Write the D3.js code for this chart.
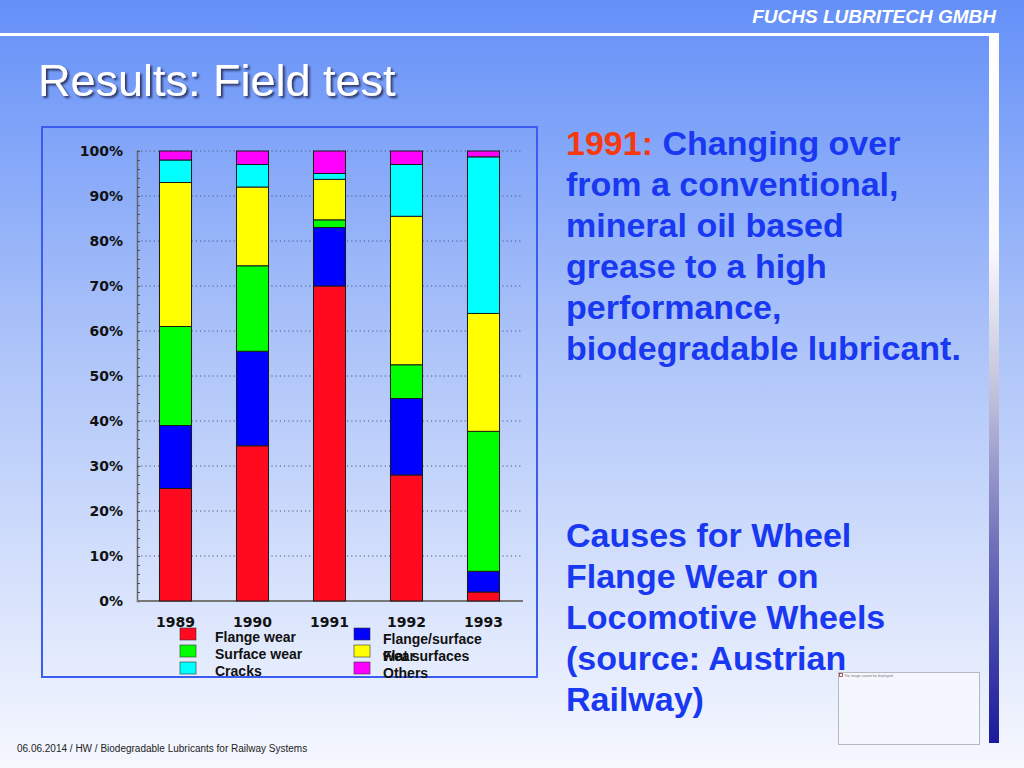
<!DOCTYPE html>
<html>
<head>
<meta charset="utf-8">
<script src="https://cdn.jsdelivr.net/npm/d3@7"></script>
<style>
  body { margin: 0; overflow: hidden; }
  svg { display: block; }
</style>
</head>
<body>
<script>
// values, bottom segment first
const years = ["1989", "1990", "1991", "1992", "1993"];
const causes = ["Flange wear", "Flange/surface wear", "Surface wear", "Flat surfaces", "Cracks", "Others"];
const causeColors = ["#ff0a1e", "#0000ff", "#00ff00", "#ffff00", "#00ffff", "#ff00ff"];

const flangeWear        = [25, 34.5, 70, 28, 2];
const flangeSurfaceWear = [14, 21, 13, 17, 4.6];
const surfaceWear       = [22, 19, 1.7, 7.5, 31.1];
const flatSurfaces      = [32, 17.5, 9, 33, 26.2];
const cracks            = [5, 5, 1.3, 11.5, 34.8];
const others            = [2, 3, 5, 3, 1.3];

const yTicks = [0, 10, 20, 30, 40, 50, 60, 70, 80, 90, 100];

const headLines = ["Changing over", "from a conventional,", "mineral oil based", "grease to a high", "performance,", "biodegradable lubricant."];
const causeLines = ["Causes for Wheel", "Flange Wear on", "Locomotive Wheels", "(source: Austrian", "Railway)"];

const W = 1024, H = 768;

const svg = d3.select("body").append("svg")
  .attr("width", W)
  .attr("height", H);

const defs = svg.append("defs");

const bg = defs.append("linearGradient")
  .attr("id", "bg").attr("x1", 0).attr("y1", 0).attr("x2", 0).attr("y2", 1);
bg.append("stop").attr("offset", "0%").attr("stop-color", "#6490f8");
bg.append("stop").attr("offset", "45%").attr("stop-color", "#adc4f9");
bg.append("stop").attr("offset", "100%").attr("stop-color", "#f6f8fe");

const bar = defs.append("linearGradient")
  .attr("id", "sidebar").attr("x1", 0).attr("y1", 0).attr("x2", 0).attr("y2", 1);
bar.append("stop").attr("offset", "0%").attr("stop-color", "#ffffff");
bar.append("stop").attr("offset", "30%").attr("stop-color", "#fafafd");
bar.append("stop").attr("offset", "52%").attr("stop-color", "#bdbdda");
bar.append("stop").attr("offset", "72%").attr("stop-color", "#7070ba");
bar.append("stop").attr("offset", "100%").attr("stop-color", "#1a1a9c");

const shadow = defs.append("filter").attr("id", "shadow")
  .attr("x", "-5%").attr("y", "-20%").attr("width", "120%").attr("height", "150%");
shadow.append("feDropShadow")
  .attr("dx", 2).attr("dy", 2).attr("stdDeviation", 0.8)
  .attr("flood-color", "#1a1a3a").attr("flood-opacity", 0.8);

svg.append("rect").attr("width", W).attr("height", H).attr("fill", "url(#bg)");

// header rule and side stripe
svg.append("rect").attr("x", 0).attr("y", 33).attr("width", 999).attr("height", 3).attr("fill", "#ffffff");
svg.append("rect").attr("x", 989).attr("y", 33).attr("width", 10).attr("height", 710).attr("fill", "url(#sidebar)");

svg.append("text")
  .attr("x", 996).attr("y", 23)
  .attr("text-anchor", "end")
  .attr("font-family", "'Liberation Sans', Arial, sans-serif")
  .attr("font-size", 19).attr("font-weight", "bold").attr("font-style", "italic")
  .attr("fill", "#ffffff")
  .text("FUCHS LUBRITECH GMBH");

svg.append("text")
  .attr("x", 38).attr("y", 96)
  .attr("font-family", "'Liberation Sans', Arial, sans-serif")
  .attr("font-size", 45)
  .attr("fill", "#ffffff")
  .attr("filter", "url(#shadow)")
  .text("Results: Field test");

// chart frame
svg.append("rect")
  .attr("x", 42).attr("y", 127).attr("width", 495).attr("height", 550)
  .attr("fill", "none").attr("stroke", "#3a5cf0").attr("stroke-width", 2);

const x = d3.scaleBand()
  .domain(years)
  .range([137, 522])
  .paddingInner(0.584)
  .paddingOuter(0.292);

const y = d3.scaleLinear()
  .domain([0, 100])
  .range([601, 151]);

const rows = years.map((yr, i) => ({
  year: yr,
  "Flange wear": flangeWear[i],
  "Flange/surface wear": flangeSurfaceWear[i],
  "Surface wear": surfaceWear[i],
  "Flat surfaces": flatSurfaces[i],
  "Cracks": cracks[i],
  "Others": others[i]
}));

const series = d3.stack().keys(causes)(rows);
const color = d3.scaleOrdinal().domain(causes).range(causeColors);

const chart = svg.append("g");

// dotted grid
chart.append("g")
  .selectAll("line")
  .data(yTicks.filter(d => d > 0))
  .enter().append("line")
  .attr("x1", 137).attr("x2", 523)
  .attr("y1", d => y(d)).attr("y2", d => y(d))
  .attr("stroke", "#4a5680").attr("stroke-width", 1)
  .attr("stroke-dasharray", "1.2,3");

// y axis with minor ticks pointing inward
const yAxis = chart.append("g")
  .attr("transform", "translate(137,0)")
  .call(d3.axisRight(y).tickValues(d3.range(0, 101, 2)).tickSize(3).tickFormat(""));
yAxis.select(".domain").attr("stroke", "#666").attr("stroke-width", 1.5);
yAxis.selectAll(".tick line").attr("stroke", "#555");

chart.append("g")
  .selectAll("text")
  .data(yTicks)
  .enter().append("text")
  .attr("x", 123).attr("y", d => y(d) + 5)
  .attr("text-anchor", "end")
  .attr("font-family", "'DejaVu Sans', sans-serif")
  .attr("font-size", 14).attr("font-weight", "bold")
  .attr("fill", "#111")
  .text(d => d + "%");

chart.append("line")
  .attr("x1", 137).attr("x2", 523)
  .attr("y1", y(0)).attr("y2", y(0))
  .attr("stroke", "#777").attr("stroke-width", 2);

chart.append("g")
  .selectAll("g")
  .data(series)
  .enter().append("g")
  .attr("fill", d => color(d.key))
  .selectAll("rect")
  .data(d => d)
  .enter().append("rect")
  .attr("x", d => x(d.data.year))
  .attr("width", x.bandwidth())
  .attr("y", d => y(d[1]))
  .attr("height", d => y(d[0]) - y(d[1]))
  .attr("stroke", "#1a1a1a").attr("stroke-width", 1);

chart.append("g")
  .selectAll("text")
  .data(years)
  .enter().append("text")
  .attr("x", d => x(d) + x.bandwidth() / 2)
  .attr("y", 627)
  .attr("text-anchor", "middle")
  .attr("font-family", "'DejaVu Sans', sans-serif")
  .attr("font-size", 14).attr("font-weight", "bold")
  .attr("fill", "#111")
  .text(d => d);

// legend, two columns (the wrapped second line overlaps in the original too)
const legend = chart.append("g")
  .selectAll("g")
  .data(causes)
  .enter().append("g")
  .attr("transform", (d, i) => `translate(${i % 2 ? 354 : 180},${628 + Math.floor(i / 2) * 17})`);

legend.append("rect")
  .attr("width", 16).attr("height", 12)
  .attr("fill", d => color(d))
  .attr("stroke", "#333").attr("stroke-width", 0.6);

legend.append("text")
  .attr("x", (d, i) => i % 2 ? 29 : 35)
  .attr("y", (d, i) => i % 2 ? 16 : 14)
  .attr("font-family", "'Liberation Sans', Arial, sans-serif")
  .attr("font-size", 14).attr("font-weight", "bold")
  .attr("fill", "#111")
  .each(function(d, i) {
    const t = d3.select(this);
    const words = d.split(" ");
    let line = [];
    let tspan = t.append("tspan").attr("x", i % 2 ? 29 : 35);
    for (let w of words) {
      line.push(w);
      tspan.text(line.join(" "));
      if (tspan.node().getComputedTextLength() > 110 && line.length > 1) {
        line.pop();
        tspan.text(line.join(" "));
        line = [w];
        tspan = t.append("tspan").attr("x", i % 2 ? 29 : 35).attr("dy", 17).text(w);
      }
    }
  });

// right hand text
const blue = "#1838f2";
const right = svg.append("g")
  .attr("font-family", "'Liberation Sans', Arial, sans-serif")
  .attr("font-size", 34).attr("font-weight", "bold")
  .attr("fill", blue);

const head = right.append("text").attr("x", 566).attr("y", 155);
head.append("tspan").attr("fill", "#f8380e").text("1991: ");
head.append("tspan").text(headLines[0]);

right.append("g")
  .selectAll("text")
  .data(headLines.slice(1))
  .enter().append("text")
  .attr("x", 566)
  .attr("y", (d, i) => 155 + (i + 1) * 41)
  .text(d => d);

right.append("g")
  .selectAll("text")
  .data(causeLines)
  .enter().append("text")
  .attr("x", 566)
  .attr("y", (d, i) => 547 + i * 41)
  .text(d => d);

// empty picture placeholder
svg.append("rect")
  .attr("x", 838.5).attr("y", 672.5).attr("width", 141).attr("height", 72)
  .attr("fill", "#f4f7fe").attr("stroke", "#b8b8c0").attr("stroke-width", 1);
svg.append("rect")
  .attr("x", 839.5).attr("y", 673.5).attr("width", 3).attr("height", 3)
  .attr("fill", "none").attr("stroke", "#a03030").attr("stroke-width", 0.8);
svg.append("text")
  .attr("x", 844).attr("y", 676.5)
  .attr("font-family", "'Liberation Sans', Arial, sans-serif")
  .attr("font-size", 3.5).attr("fill", "#777")
  .text("The image cannot be displayed.");

svg.append("text")
  .attr("x", 17).attr("y", 752)
  .attr("font-family", "'Liberation Sans', Arial, sans-serif")
  .attr("font-size", 10).attr("fill", "#222")
  .text("06.06.2014 / HW / Biodegradable Lubricants for Railway Systems");
</script>
</body>
</html>
